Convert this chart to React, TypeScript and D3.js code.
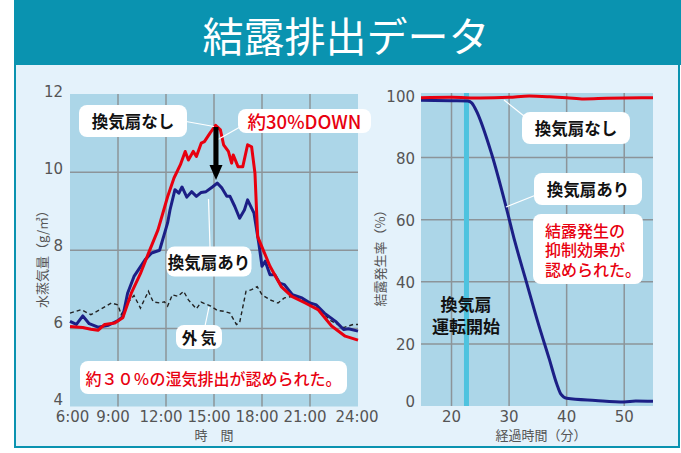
import React from "react";
import * as d3 from "d3";

// ---------- DATA ----------
const titleText = "結露排出データ";

// Left chart: 水蒸気量 (g/㎥) vs time (hours)
const leftTimeTicks = [6, 9, 12, 15, 18, 21, 24];
const leftTimeLabels = ["6:00", "9:00", "12:00", "15:00", "18:00", "21:00", "24:00"];
const leftValueTicks = [4, 6, 8, 10, 12];

const noFanHumidity: [number, number][] = [
  [6.0, 6.05], [6.8, 6.02], [7.3, 5.98], [7.75, 5.95], [8.17, 6.1], [8.8, 6.14],
  [9.3, 6.27], [9.83, 6.9], [10.4, 7.4], [10.9, 7.92], [11.5, 8.52], [12.1, 9.37],
  [12.5, 9.85], [12.9, 10.19], [13.2, 10.53], [13.4, 10.31], [13.7, 10.53], [13.9, 10.4],
  [14.2, 10.74], [14.4, 10.78], [14.75, 11.0], [15.1, 11.2], [15.4, 11.08], [15.6, 10.7],
  [15.9, 10.53], [16.1, 10.23], [16.2, 10.44], [16.5, 10.14], [16.8, 10.14], [17.1, 10.7],
  [17.35, 10.65], [17.56, 9.97], [17.73, 8.35], [17.98, 8.1], [18.5, 7.59], [19.2, 7.07],
  [19.86, 6.82], [20.7, 6.65], [21.5, 6.48], [22.35, 6.06], [23.2, 5.8], [24.0, 5.7],
];

const withFanHumidity: [number, number][] = [
  [6.0, 6.18], [6.4, 6.1], [6.8, 6.32], [7.2, 6.12], [7.75, 6.03], [8.4, 6.08],
  [9.0, 6.2], [9.3, 6.3], [9.6, 6.9], [10.0, 7.33], [10.7, 7.76], [11.1, 7.93],
  [11.6, 8.0], [12.1, 8.7], [12.25, 9.03], [12.56, 9.55], [12.8, 9.46], [13.0, 9.62],
  [13.3, 9.36], [13.6, 9.5], [13.9, 9.38], [14.2, 9.48], [14.5, 9.5], [14.9, 9.62],
  [15.2, 9.72], [15.5, 9.59], [15.8, 9.38], [16.0, 9.38], [16.3, 9.12], [16.6, 8.82],
  [16.9, 9.03], [17.1, 9.29], [17.5, 8.95], [17.8, 8.18], [18.0, 7.59], [18.2, 7.72],
  [18.5, 7.37], [18.8, 7.37], [19.1, 7.16], [19.4, 7.12], [19.9, 6.86], [20.5, 6.78],
  [21.0, 6.65], [21.4, 6.6], [21.9, 6.39], [22.6, 6.18], [23.1, 5.97], [23.4, 5.99],
  [24.0, 5.93],
];

const outsideHumidity: [number, number][] = [
  [6.0, 6.39], [6.7, 6.48], [7.3, 6.35], [7.96, 6.5], [8.6, 6.65], [9.0, 6.6],
  [9.2, 6.35], [9.6, 6.65], [10.0, 6.84], [10.4, 6.52], [10.9, 6.95], [11.2, 6.68],
  [11.6, 6.65], [11.9, 6.68], [12.1, 6.57], [12.4, 6.86], [12.75, 6.82], [13.1, 6.95],
  [13.4, 6.73], [13.9, 6.5], [14.2, 6.67], [14.8, 6.57], [15.2, 6.46], [15.6, 6.44],
  [16.0, 6.39], [16.4, 6.1], [16.6, 6.14], [17.0, 6.95], [17.35, 6.99], [17.7, 7.07],
  [18.0, 6.86], [18.5, 6.73], [19.0, 6.65], [19.4, 6.78], [19.9, 6.82], [20.5, 6.72],
  [21.5, 6.5], [22.3, 6.2], [23.1, 6.02], [23.7, 6.1], [24.0, 6.1],
];

// Right chart: 結露発生率 (%) vs 経過時間 (分)
const rightMinuteTicks = [20, 30, 40, 50];
const rightRateTicks = [0, 20, 40, 60, 80, 100];
const fanStartMinute = 22.6;

const noFanRate: [number, number][] = [
  [14.7, 99.3], [20, 99.4], [25, 99.2], [30, 99.4], [33.5, 99.8], [37, 99.6],
  [40, 99.3], [43, 98.9], [47, 99.1], [55, 99.3],
];

const withFanRate: [number, number][] = [
  [14.7, 98.5], [20, 98.3], [22.8, 98.2], [23.5, 97.6], [24.2, 95.5], [27, 81],
  [29.5, 64], [31, 53], [33, 40], [35, 27], [37, 15], [38.3, 7], [39, 3.8],
  [40, 2.5], [45, 1.8], [50, 1.3], [52, 1.6], [55, 1.5],
];

const fanStartLines = ["換気扇", "運転開始"];
const effectLines = ["結露発生の", "抑制効果が", "認められた。"];

// ---------- STYLE ----------
const TEAL = "#0a93b0";
const PANEL = "#e4f2fb";
const PLOT = "#acd6e8";
const GRID = "#8c9499";
const RED = "#e8000f";
const NAVY = "#1c1f86";
const CYAN = "#4ec3df";
const JP = "'Noto Sans CJK JP', 'Noto Sans', sans-serif";
const NUM = "'DejaVu Sans', sans-serif";

export default function App() {
  // left scales
  const lx = d3.scaleLinear().domain([6, 24]).range([70, 358]);
  const ly = d3.scaleLinear().domain([4, 12]).range([406.5, 94]);
  // right scales
  const rx = d3.scaleLinear().domain([14.7, 55]).range([421, 653]);
  const ry = d3.scaleLinear().domain([0, 100]).range([406, 95.5]);

  const lLine = d3
    .line<[number, number]>()
    .x((d) => lx(d[0]))
    .y((d) => ly(d[1]));
  const rLine = d3
    .line<[number, number]>()
    .x((d) => rx(d[0]))
    .y((d) => ry(d[1]))
    .curve(d3.curveMonotoneX);

  const [lx0, lx1] = lx.range();
  const [ly0, ly1] = ly.range();
  const [rx0, rx1] = rx.range();
  const ryTop = 93;
  const ryBot = 406;

  const whiteBox = (x: number, y: number, w: number, h: number) => (
    <rect x={x} y={y} width={w} height={h} rx={8} ry={8} fill="#ffffff" />
  );

  return (
    <div style={{ position: "absolute", left: 0, top: 0 }}>
      <svg width={681} height={453} xmlns="http://www.w3.org/2000/svg">
        <rect x={0} y={0} width={681} height={453} fill="#ffffff" />
        {/* panel */}
        <rect x={15} y={64} width={664} height={383} fill={PANEL} stroke={TEAL} strokeWidth={2} />
        {/* title bar */}
        <rect x={14} y={0} width={667} height={65} fill={TEAL} />
        <text
          x={346}
          y={34}
          textAnchor="middle"
          dominantBaseline="central"
          fill="#ffffff"
          fontFamily={JP}
          fontSize={41}
        >
          {titleText}
        </text>

        {/* ---------- LEFT CHART ---------- */}
        <rect x={lx0} y={ly1} width={lx1 - lx0} height={ly0 - ly1} fill={PLOT} />
        {leftTimeTicks.slice(1, -1).map((t) => (
          <line key={"lv" + t} x1={lx(t)} x2={lx(t)} y1={ly1} y2={ly0} stroke={GRID} strokeWidth={1.5} />
        ))}
        {leftValueTicks.slice(1, -1).map((v) => (
          <line key={"lh" + v} x1={lx0} x2={lx1} y1={ly(v)} y2={ly(v)} stroke={GRID} strokeWidth={1.5} />
        ))}
        {leftValueTicks.map((v) => (
          <text
            key={"lyl" + v}
            x={63}
            y={ly(v) - 2 - (12 - v) * 0.55}
            textAnchor="end"
            dominantBaseline="central"
            fill="#555"
            fontFamily={NUM}
            fontSize={15}
          >
            {v}
          </text>
        ))}
        {leftTimeTicks.map((t, i) => {
          let cx = lx(t) - 5;
          if (i === 0) cx = Math.max(cx, 72.5);
          if (i === leftTimeTicks.length - 1) cx = lx(t) - 1;
          return (
            <text
              key={"lxl" + t}
              x={cx}
              y={417}
              textAnchor="middle"
              dominantBaseline="central"
              fill="#555"
              fontFamily={NUM}
              fontSize={15}
            >
              {leftTimeLabels[i]}
            </text>
          );
        })}
        <text x={214} y={434} textAnchor="middle" dominantBaseline="central" fill="#555" fontFamily={JP} fontSize={13}>
          時　間
        </text>
        <text
          transform={`translate(41,256) rotate(-90)`}
          textAnchor="middle"
          dominantBaseline="central"
          fill="#555"
          fontFamily={JP}
          fontSize={13}
        >
          水蒸気量（g/㎥）
        </text>

        {/* series */}
        <path d={lLine(outsideHumidity) || ""} fill="none" stroke="#222" strokeWidth={1.4} strokeDasharray="4 3" />
        <path d={lLine(withFanHumidity) || ""} fill="none" stroke={NAVY} strokeWidth={3} strokeLinejoin="round" />
        <path d={lLine(noFanHumidity) || ""} fill="none" stroke={RED} strokeWidth={3} strokeLinejoin="round" />

        {/* left annotations */}
        <line x1={186} y1={121.5} x2={214} y2={126.5} stroke="#fff" strokeWidth={1.2} />
        {whiteBox(79, 105, 108, 32)}
        <text x={133} y={121} textAnchor="middle" dominantBaseline="central" fill="#111" fontFamily={JP} fontSize={16.5} fontWeight={700}>
          換気扇なし
        </text>

        <line x1={240} y1={127} x2={217} y2={140} stroke="#fff" strokeWidth={1.2} />
        {whiteBox(238, 109, 133, 24)}
        <text x={304.5} y={121} textAnchor="middle" dominantBaseline="central" fill={RED} fontFamily={JP} fontSize={18.5} fontWeight={500}>
          約30%DOWN
        </text>

        {/* arrow */}
        <line x1={216} y1={127} x2={216} y2={166} stroke="#000" strokeWidth={5} />
        <path d="M209.5,165 L222.5,165 L216,180 Z" fill="#000" />

        <line x1={208.5} y1={199} x2={210} y2={247} stroke="#fff" strokeWidth={1.2} />
        {whiteBox(166.5, 246.5, 85, 30)}
        <text x={209} y={262} textAnchor="middle" dominantBaseline="central" fill="#111" fontFamily={JP} fontSize={16.5} fontWeight={700}>
          換気扇あり
        </text>

        <line x1={209} y1={307} x2={205} y2={326} stroke="#fff" strokeWidth={1.2} />
        {whiteBox(176, 325, 46, 24)}
        <text x={199} y={337} textAnchor="middle" dominantBaseline="central" fill="#111" fontFamily={JP} fontSize={15.5} fontWeight={700}>
          外 気
        </text>

        {whiteBox(80, 361, 267, 33)}
        <text x={213.5} y={378} textAnchor="middle" dominantBaseline="central" fill={RED} fontFamily={JP} fontSize={16} fontWeight={500}>
          約３０％の湿気排出が認められた。
        </text>

        {/* ---------- RIGHT CHART ---------- */}
        <rect x={rx0} y={ryTop} width={rx1 - rx0} height={ryBot - ryTop} fill={PLOT} />
        {rightMinuteTicks.map((m) => (
          <line key={"rv" + m} x1={rx(m)} x2={rx(m)} y1={ryTop} y2={ryBot} stroke={GRID} strokeWidth={1.5} />
        ))}
        {rightRateTicks.slice(1, -1).map((v) => (
          <line key={"rh" + v} x1={rx0} x2={rx1} y1={ry(v)} y2={ry(v)} stroke={GRID} strokeWidth={1.5} />
        ))}
        <line
          x1={rx(fanStartMinute)}
          x2={rx(fanStartMinute)}
          y1={ryTop}
          y2={ryBot}
          stroke={CYAN}
          strokeWidth={5}
        />
        {rightRateTicks.map((v) => (
          <text
            key={"ryl" + v}
            x={415}
            y={Math.min(ry(v) + 1, 402)}
            textAnchor="end"
            dominantBaseline="central"
            fill="#555"
            fontFamily={NUM}
            fontSize={15}
          >
            {v}
          </text>
        ))}
        {rightMinuteTicks.map((m) => (
          <text
            key={"rxl" + m}
            x={rx(m)}
            y={417}
            textAnchor="middle"
            dominantBaseline="central"
            fill="#555"
            fontFamily={NUM}
            fontSize={15}
          >
            {m}
          </text>
        ))}
        <text x={541} y={434} textAnchor="middle" dominantBaseline="central" fill="#555" fontFamily={JP} fontSize={13}>
          経過時間（分）
        </text>
        <text
          transform={`translate(379,255) rotate(-90)`}
          textAnchor="middle"
          dominantBaseline="central"
          fill="#555"
          fontFamily={JP}
          fontSize={13}
        >
          結露発生率（%）
        </text>

        <text textAnchor="middle" fill="#111" fontFamily={JP} fontSize={17} fontWeight={700}>
          {fanStartLines.map((s, i) => (
            <tspan key={"fs" + i} x={466} y={311 + i * 22}>
              {s}
            </tspan>
          ))}
        </text>

        <path d={rLine(withFanRate) || ""} fill="none" stroke={NAVY} strokeWidth={3} strokeLinejoin="round" />
        <path d={rLine(noFanRate) || ""} fill="none" stroke={RED} strokeWidth={3} strokeLinejoin="round" />

        {/* right annotations */}
        <line x1={504} y1={100} x2={524} y2={116} stroke="#fff" strokeWidth={1.2} />
        {whiteBox(522, 112, 108, 32)}
        <text x={576} y={128} textAnchor="middle" dominantBaseline="central" fill="#111" fontFamily={JP} fontSize={16.5} fontWeight={700}>
          換気扇なし
        </text>

        <line x1={506} y1={207} x2={536} y2={195} stroke="#fff" strokeWidth={1.2} />
        {whiteBox(534, 173, 108, 32)}
        <text x={588} y={189} textAnchor="middle" dominantBaseline="central" fill="#111" fontFamily={JP} fontSize={16.5} fontWeight={700}>
          換気扇あり
        </text>

        {whiteBox(533, 214, 110, 70)}
        <text fill={RED} fontFamily={JP} fontSize={16} fontWeight={500}>
          {effectLines.map((s, i) => (
            <tspan key={"rt" + i} x={545} y={236.5 + i * 19.8}>
              {s}
            </tspan>
          ))}
        </text>
      </svg>
    </div>
  );
}
